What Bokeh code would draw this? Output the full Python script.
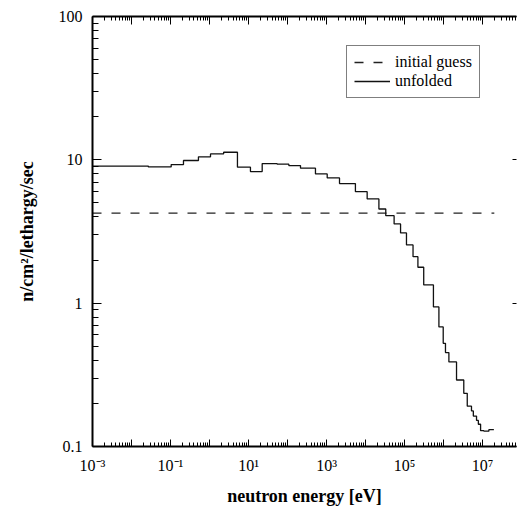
from bokeh.plotting import figure
from bokeh.models import LogAxis, FixedTicker, Legend, LegendItem, Range1d
from bokeh.embed import file_html
from bokeh.resources import INLINE

# ---- data ----
energy_edges = [1e-3, 0.027, 0.104, 0.215, 0.52, 1.06, 2.3, 5.2, 11.2, 22.4,
                54, 108, 215, 520, 1040, 2150, 5500, 1.1e4, 2.2e4, 3.3e4,
                5.4e4, 7.9e4, 1.12e5, 1.65e5, 2.2e5, 3.1e5, 5.5e5, 7.6e5, 9.8e5, 1.12e6,
                1.37e6, 2.15e6, 3.3e6, 4.05e6, 5.2e6, 5.8e6, 7.0e6, 7.8e6, 8.9e6, 1.08e7,
                1.45e7, 1.95e7]
unfolded_flux = [9.04, 8.93, 9.27, 9.89, 10.5, 11.0, 11.3, 8.89, 8.28, 9.42,
                 9.33, 9.12, 8.75, 7.98, 7.48, 6.83, 6.00, 5.34, 4.54, 4.08,
                 3.57, 3.09, 2.55, 2.11, 1.78, 1.34, 0.942, 0.683, 0.525, 0.452,
                 0.389, 0.291, 0.235, 0.191, 0.177, 0.163, 0.152, 0.143, 0.129, 0.128,
                 0.131]
guess_energy = [1e-3, 2.0e7]
guess_flux = [4.25, 4.25]

x_major = [10.0 ** k for k in range(-3, 8)]
x_tick_labels = ["10⁻³", " ", "10⁻¹", " ", "10¹", " ", "10³", " ", "10⁵", " ", "10⁷"]
y_major = [0.1, 1.0, 10.0, 100.0]
y_tick_labels = ["0.1", "1", "10", "100"]

x_minor = [m * 10.0 ** k for k in range(-3, 8) for m in range(2, 10)]
y_minor = [m * 10.0 ** k for k in range(-1, 2) for m in range(2, 10)]

FONT = "Liberation Serif"

p = figure(width=517, height=509, x_axis_type="log", y_axis_type="log",
           x_range=Range1d(1e-3, 10 ** 7.87), y_range=Range1d(0.1, 100),
           output_backend="svg", toolbar_location=None,
           min_border_left=92, min_border_top=16, min_border_bottom=63, min_border_right=1,
           outline_line_color=None, background_fill_color="white",
           border_fill_color="white")
p.grid.visible = False

xticker = FixedTicker(ticks=x_major, minor_ticks=x_minor)
yticker = FixedTicker(ticks=y_major, minor_ticks=y_minor)

xa = p.xaxis[0]
xa.ticker = xticker
xa.major_label_overrides = {t: l for t, l in zip(x_major, x_tick_labels)}
xa.axis_label = "neutron energy [eV]"

ya = p.yaxis[0]
ya.ticker = yticker
ya.major_label_overrides = {t: l for t, l in zip(y_major, y_tick_labels)}
ya.axis_label = "n/cm²/lethargy/sec"

for ax in (xa, ya):
    ax.axis_line_width = 2
    ax.axis_line_color = "black"
    ax.major_tick_line_color = "black"
    ax.minor_tick_line_color = "black"
    ax.major_tick_out = 0
    ax.minor_tick_out = 0
    ax.major_label_text_font = FONT
    ax.major_label_text_font_size = "16px"
    ax.major_label_text_color = "black"
    ax.axis_label_text_font = FONT
    ax.axis_label_text_font_style = "bold"
    ax.axis_label_text_font_size = "18px"
    ax.axis_label_text_color = "black"

xa.major_tick_in = 7
xa.minor_tick_in = 4
xa.major_label_standoff = 10
xa.axis_label_standoff = 9
ya.major_tick_in = 9
ya.minor_tick_in = 6
ya.major_label_standoff = 10
ya.axis_label_standoff = 19

top = LogAxis(ticker=xticker, axis_line_width=2, axis_line_color="black",
              major_tick_in=8, major_tick_out=0, minor_tick_in=4, minor_tick_out=0,
              major_label_text_font_size="1px", major_label_text_color=None,
              major_label_standoff=0)
p.add_layout(top, "above")

right = LogAxis(ticker=FixedTicker(ticks=y_major), axis_line_color=None,
                major_tick_in=4, major_tick_out=0, minor_tick_in=0, minor_tick_out=0,
                major_label_text_font_size="1px", major_label_text_color=None,
                major_label_standoff=0)
p.add_layout(right, "right")

guess_r = p.line(guess_energy, guess_flux, line_color="#222222", line_width=1.3,
                 line_dash="9 10")
unf_r = p.step(energy_edges, unfolded_flux + [unfolded_flux[-1]], mode="after",
               line_color="#111111", line_width=1.3)

legend = Legend(items=[LegendItem(label="initial guess", renderers=[guess_r]),
                       LegendItem(label="unfolded", renderers=[unf_r])],
                location=(254, 348), label_text_font=FONT, label_text_font_size="16px",
                label_text_color="black", border_line_color="black", border_line_width=1,
                background_fill_color="white", background_fill_alpha=1.0,
                glyph_width=36, glyph_height=16, label_height=16, label_standoff=5,
                spacing=1, padding=7, margin=0)
p.add_layout(legend, "center")

open("out.html", "w").write(file_html(p, INLINE))
